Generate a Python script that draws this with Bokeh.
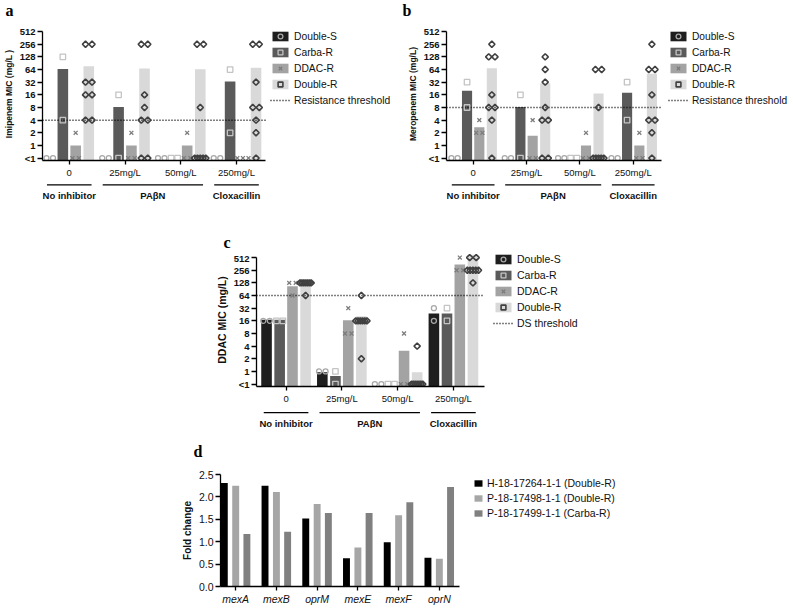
import numpy as np
from bokeh.plotting import figure
from bokeh.layouts import column, row
from bokeh.models import (Range1d, FixedTicker, Legend, LegendItem, Spacer,
                          PrintfTickFormatter)
from bokeh.core.properties import value
from bokeh.embed import file_html
from bokeh.resources import INLINE

# ------------------------------------------------------------------ data
LT1 = 0.5  # value used for "<1"
GROUPS = ["0", "25mg/L", "50mg/L", "250mg/L"]
STRAINS = ["Double-S", "Carba-R", "DDAC-R", "Double-R"]
MIC_TICKS = [0.5, 1, 2, 4, 8, 16, 32, 64, 128, 256, 512]
MIC_TICK_LABELS = ["<1", "1", "2", "4", "8", "16", "32", "64", "128", "256", "512"]
BRACKET_LABELS = ["No inhibitor", "PAβN", "Cloxacillin"]
BRACKET_FIRST = [0, 1, 3]
BRACKET_LAST = [0, 2, 3]

# panel a: imipenem (bar = mean MIC, points = isolates)
imi_double_s_mean = [0.5, 0.5, 0.5, 0.5]
imi_carba_r_mean = [66, 8.25, 0.5, 33]
imi_ddac_r_mean = [1, 1, 1, 0.5]
imi_double_r_mean = [77, 68, 65, 71]
imi_double_s_pts = [[LT1, LT1], [LT1, LT1], [LT1, LT1], [LT1, LT1]]
imi_carba_r_pts = [[128, 4], [16, LT1], [LT1, LT1], [64, 2]]
imi_ddac_r_pts = [[2, LT1, LT1], [2, LT1, LT1], [2, LT1, LT1], [LT1, LT1, LT1]]
imi_double_r_pts = [[256, 256, 32, 32, 16, 16, 4, 4],
                    [256, 256, 16, 8, 4, 4, LT1, LT1],
                    [256, 256, 8, LT1, LT1, LT1, LT1, LT1],
                    [256, 256, 32, 8, 8, 4, 2, LT1]]
imi_threshold = 4

# panel b: meropenem
mero_double_s_mean = [0.5, 0.5, 0.5, 0.5]
mero_carba_r_mean = [20, 8.25, 0.5, 18]
mero_ddac_r_mean = [2.7, 1.7, 1, 1]
mero_double_r_mean = [69, 30, 17.3, 51]
mero_double_s_pts = [[LT1, LT1], [LT1, LT1], [LT1, LT1], [LT1, LT1]]
mero_carba_r_pts = [[32, 8], [16, LT1], [LT1, LT1], [32, 4]]
mero_ddac_r_pts = [[4, 2, 2], [4, LT1, LT1], [2, LT1, LT1], [2, LT1, LT1]]
mero_double_r_pts = [[256, 128, 128, 16, 8, 8, 4, LT1],
                     [128, 64, 32, 8, 4, 4, LT1, LT1],
                     [64, 64, 8, LT1, LT1, LT1, LT1, LT1],
                     [256, 64, 64, 16, 4, 4, 2, LT1]]
mero_threshold = 8

# panel c: DDAC
ddac_double_s_mean = [17, 0.95, 0.5, 24]
ddac_carba_r_mean = [17, 0.78, 0.5, 24]
ddac_ddac_r_mean = [107, 16.5, 3.1, 350]
ddac_double_r_mean = [122, 20.5, 0.95, 600]
ddac_double_s_pts = [[16, 16], [1, 1], [LT1, LT1], [32, 16]]
ddac_carba_r_pts = [[16, 16], [1, LT1], [LT1, LT1], [32, 16]]
ddac_ddac_r_pts = [[128, 128, 64], [32, 8, 8], [8, LT1, LT1], [512, 256, 256]]
ddac_double_r_pts = [[128, 128, 128, 128, 128, 128, 128, 64],
                     [64, 16, 16, 16, 16, 16, 16, 2],
                     [4, LT1, LT1, LT1, LT1, LT1, LT1, LT1],
                     [512, 512, 256, 256, 256, 256, 256, 128]]
ddac_threshold = 64

# panel d: fold change of efflux genes
GENES = ["mexA", "mexB", "oprM", "mexE", "mexF", "oprN"]
ISOLATES = ["H-18-17264-1-1 (Double-R)", "P-18-17498-1-1 (Double-R)", "P-18-17499-1-1 (Carba-R)"]
fc_h17264 = [2.31, 2.25, 1.52, 0.63, 0.99, 0.64]
fc_p17498 = [2.25, 2.11, 1.84, 0.87, 1.59, 0.62]
fc_p17499 = [1.17, 1.22, 1.64, 1.64, 1.88, 2.22]
FC_TICKS = [0, 0.5, 1, 1.5, 2, 2.5]

PANEL_LETTERS = ["a", "b", "c", "d"]

# ------------------------------------------------------------------ style
FONT = "Liberation Sans"
SERIF = "Liberation Serif"
TEXT = "#111111"
PAGE_W = 793
BAR_COLORS = ["#1e1e1e", "#5a5a5a", "#a3a3a3", "#d9d9d9"]
MARKERS = ["circle", "square", "x", "square"]
MARKER_ANGLES = [0, 0, 0, np.pi / 4]
MARKER_COLORS = ["#a8a8a8", "#c4c4c4", "#7c7c7c", "#404040"]
MARKER_SIZES = [5, 5.5, 5.5, 4.4]
MARKER_WIDTHS = [1.3, 1.3, 1.3, 1.6]
BAR_OFFSETS = [-0.35, -0.115, 0.115, 0.35]
BAR_WIDTH = 0.19
Y_START, Y_END = 0.438, 640
FC_COLORS = ["#000000", "#a6a6a6", "#808080"]
FC_OFFSETS = [-0.28, 0.0, 0.275]


def spread(vals, center, step=0.117, maxw=0.2):
    xs, ys = [], []
    for u in sorted(set(vals), reverse=True):
        n = vals.count(u)
        w = min((n - 1) * step, maxw)
        offs = np.linspace(-w / 2, w / 2, n) if n > 1 else [0.0]
        xs.extend(float(center + o) for o in offs)
        ys.extend([u] * n)
    return xs, ys


def style_axes(p, tick_size="9.5px"):
    for ax in p.axis:
        ax.axis_line_color = "black"
        ax.axis_line_width = 1.3
        ax.major_tick_line_color = "black"
        ax.major_tick_line_width = 1.3
        ax.major_tick_in = 0
        ax.major_tick_out = 4
        ax.minor_tick_line_color = None
        ax.major_label_text_font = FONT
        ax.major_label_text_color = TEXT
        ax.major_label_text_font_size = tick_size
        ax.major_label_standoff = 2
        ax.axis_label_text_font = FONT
        ax.axis_label_text_font_style = "bold"
        ax.axis_label_text_color = TEXT
        ax.axis_label_standoff = 3
    p.xgrid.visible = False
    p.ygrid.visible = False
    p.outline_line_color = None


def bare(width, height, xr, yr, bl=0, br=0):
    q = figure(width=width, height=height, x_range=xr, y_range=yr,
               output_backend="svg", toolbar_location=None,
               x_axis_location=None, y_axis_location=None,
               min_border_left=bl, min_border_right=br,
               min_border_top=0, min_border_bottom=0)
    q.xgrid.visible = False
    q.ygrid.visible = False
    q.outline_line_color = None
    return q


def letter_strip(height, letters, x_lefts, y_center_from_top):
    q = bare(PAGE_W, height, Range1d(0, PAGE_W), Range1d(0, height))
    q.text(x=x_lefts, y=[height - y_center_from_top] * len(letters), text=letters,
           text_font=value(SERIF), text_font_style="bold", text_font_size="16px",
           text_color="black", text_align="left", text_baseline="middle")
    return q


def layout_range(x0, x1, axis_px, total_px):
    ppu = axis_px / (x1 - x0)
    return x1 + (total_px - axis_px) / ppu


def mic_panel(ytitle, ytitle_size, means, pts, thr, thr_label, xr,
              width, height, bl, br, bt, bb, axis_px, leg_dx, leg_gap, leg_font):
    frame_w = width - bl - br
    frame_h = height - bt - bb
    x_end = layout_range(xr[0], xr[1], axis_px, frame_w)
    p = figure(width=width, height=height, x_range=Range1d(xr[0], x_end),
               y_range=Range1d(Y_START, Y_END), y_axis_type="log",
               output_backend="svg", toolbar_location=None,
               min_border_left=bl, min_border_right=br,
               min_border_top=bt, min_border_bottom=bb)
    ng = len(GROUPS)
    bar_rs, pt_rs = [], []
    for k in range(4):
        xs = [g + BAR_OFFSETS[k] for g in range(ng)]
        tops = [v if v > LT1 else Y_START for v in means[k]]
        bar_rs.append(p.vbar(x=xs, width=BAR_WIDTH, bottom=Y_START, top=tops,
                             fill_color=BAR_COLORS[k], line_color=None))
    thr_r = p.line([xr[0], xr[1]], [thr, thr], line_color="black",
                   line_dash="1 2", line_width=1.5)
    for k in range(4):
        px, py = [], []
        for g in range(ng):
            a, b = spread(pts[k][g], g + BAR_OFFSETS[k])
            px += a
            py += b
        pt_rs.append(p.scatter(px, py, marker=MARKERS[k], size=MARKER_SIZES[k],
                               angle=MARKER_ANGLES[k], line_color=MARKER_COLORS[k],
                               fill_color=None, line_width=MARKER_WIDTHS[k]))
    style_axes(p)
    p.yaxis.ticker = FixedTicker(ticks=MIC_TICKS)
    p.yaxis.major_label_overrides = dict(zip(MIC_TICKS, MIC_TICK_LABELS))
    p.yaxis.bounds = (Y_START, 512)
    p.yaxis.major_label_text_font_style = "bold"
    p.yaxis.major_tick_out = 5
    p.yaxis.axis_label = ytitle
    p.yaxis.axis_label_text_font_size = ytitle_size
    p.xaxis.ticker = FixedTicker(ticks=list(range(ng)))
    p.xaxis.major_label_overrides = dict(zip(range(ng), GROUPS))
    p.xaxis.bounds = (xr[0], xr[1])
    items = [LegendItem(label=STRAINS[k], renderers=[bar_rs[k], pt_rs[k]]) for k in range(4)]
    items.append(LegendItem(label=thr_label, renderers=[thr_r]))
    leg_h = 5 * 12 + 4 * 4
    leg = Legend(items=items, location=(leg_dx, frame_h - leg_gap - leg_h), margin=0, padding=0,
                 spacing=4, glyph_width=20, glyph_height=12, label_height=12,
                 label_standoff=4, label_text_font=FONT, label_text_font_size=leg_font,
                 label_text_color=TEXT, border_line_color=None, background_fill_alpha=0)
    p.add_layout(leg)
    return p, x_end


def bracket_fig(xr, x_end, width, bl, br, line_y, text_y):
    q = bare(width, 22, Range1d(xr[0], x_end), Range1d(0, 1), bl, br)
    x0 = [f - 0.4 for f in BRACKET_FIRST]
    x1 = [l + 0.4 for l in BRACKET_LAST]
    xm = [(a + b) / 2 for a, b in zip(x0, x1)]
    q.segment(x0=x0, y0=[line_y] * 3, x1=x1, y1=[line_y] * 3, line_color="black", line_width=1.3)
    q.text(x=xm, y=[text_y] * 3, text=BRACKET_LABELS, text_font=value(FONT),
           text_font_style="bold", text_font_size="9.5px", text_color=TEXT,
           text_align="center", text_baseline="middle")
    return q


XR_A = (-0.48, 3.52)
XR_B = (-0.5, 3.53)
XR_C = (-0.53, 3.55)

# ---- row 1: panels a and b
A_W, B_W = 400, 393
strip1 = letter_strip(20, PANEL_LETTERS[0:2], [5, 402], 10)
pa, xe_a = mic_panel("Imipenem MIC (mg/L )", "8.5px",
                     [imi_double_s_mean, imi_carba_r_mean, imi_ddac_r_mean, imi_double_r_mean],
                     [imi_double_s_pts, imi_carba_r_pts, imi_ddac_r_pts, imi_double_r_pts],
                     imi_threshold, "Resistance threshold", XR_A,
                     A_W, 160, 42, 5, 7, 18, 223, 228, 5, "10.3px")
pa_br = bracket_fig(XR_A, xe_a, A_W, 42, 5, 0.8, 0.3)

pb, xe_b = mic_panel("Meropenem MIC (mg/L)", "8.5px",
                     [mero_double_s_mean, mero_carba_r_mean, mero_ddac_r_mean, mero_double_r_mean],
                     [mero_double_s_pts, mero_carba_r_pts, mero_ddac_r_pts, mero_double_r_pts],
                     mero_threshold, "Resistance threshold", XR_B,
                     B_W, 160, 46, 2, 7, 18, 215, 222, 5, "10.2px")
pb_br = bracket_fig(XR_B, xe_b, B_W, 46, 2, 0.8, 0.3)

# ---- row 2: panel c
C_W = 373
strip2 = letter_strip(50, PANEL_LETTERS[2:3], [223], 40)
pc, xe_c = mic_panel("DDAC MIC (mg/L)", "10.5px",
                     [ddac_double_s_mean, ddac_carba_r_mean, ddac_ddac_r_mean, ddac_double_r_mean],
                     [ddac_double_s_pts, ddac_carba_r_pts, ddac_ddac_r_pts, ddac_double_r_pts],
                     ddac_threshold, "DS threshold", XR_C,
                     C_W, 154, 42, 5, 1, 18, 229, 237, 2, "10.5px")
pc_br = bracket_fig(XR_C, xe_c, C_W, 42, 5, 0.72, 0.22)

# ---- row 3: panel d
D_W, D_H, D_BL, D_BR, D_BT, D_BB = 450, 146, 39, 5, 13, 19
d_frame_w = D_W - D_BL - D_BR
d_frame_h = D_H - D_BT - D_BB
XR_D = (-0.373, 5.5)
xe_d = layout_range(XR_D[0], XR_D[1], 241, d_frame_w)
strip3 = letter_strip(33, PANEL_LETTERS[3:4], [193], 23)
pd_ = figure(width=D_W, height=D_H, x_range=Range1d(XR_D[0], xe_d), y_range=Range1d(0, 2.5),
             output_backend="svg", toolbar_location=None,
             min_border_left=D_BL, min_border_right=D_BR, min_border_top=D_BT, min_border_bottom=D_BB)
fc_series = [fc_h17264, fc_p17498, fc_p17499]
fc_rs = []
for j in range(3):
    fc_rs.append(pd_.vbar(x=[i + FC_OFFSETS[j] for i in range(len(GENES))], width=0.17,
                          bottom=0, top=fc_series[j], fill_color=FC_COLORS[j], line_color=None))
style_axes(pd_, "10.5px")
pd_.yaxis.ticker = FixedTicker(ticks=FC_TICKS)
pd_.yaxis.formatter = PrintfTickFormatter(format="%.1f")
pd_.yaxis.major_tick_out = 5
pd_.yaxis.axis_label = "Fold change"
pd_.yaxis.axis_label_text_font_size = "10px"
pd_.xaxis.ticker = FixedTicker(ticks=list(range(len(GENES))))
pd_.xaxis.major_label_overrides = dict(zip(range(len(GENES)), GENES))
pd_.xaxis.major_label_text_font_style = "italic"
pd_.xaxis.bounds = XR_D
leg_d_h = 3 * 12 + 2 * 3
leg_d = Legend(items=[LegendItem(label=ISOLATES[j], renderers=[fc_rs[j]]) for j in range(3)],
               location=(253, d_frame_h - 5 - leg_d_h), margin=0, padding=0, spacing=3,
               glyph_width=10, glyph_height=8, label_height=12, label_standoff=4,
               label_text_font=FONT, label_text_font_size="10.5px", label_text_color=TEXT,
               border_line_color=None, background_fill_alpha=0)
pd_.add_layout(leg_d)

row1 = row(column(pa, pa_br), column(pb, pb_br))
row2 = row(Spacer(width=212, height=176), column(pc, pc_br))
row3 = row(Spacer(width=178, height=146), pd_)
layout = column(strip1, row1, strip2, row2, strip3, row3)

open("out.html", "w").write(file_html(layout, INLINE))
